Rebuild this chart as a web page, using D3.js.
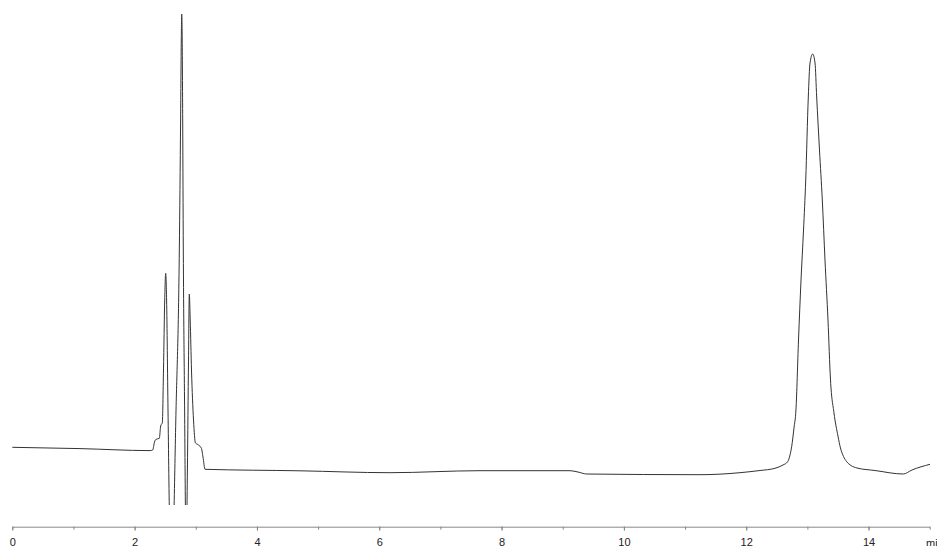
<!DOCTYPE html>
<html>
<head>
<meta charset="utf-8">
<script src="https://d3js.org/d3.v7.min.js"></script>
<style>
  body { margin: 0; background: #fff; }
  svg { display: block; }
</style>
</head>
<body>
<div id="chart"></div>
<script>
// retention time (min) and detector signal
var times = [0.00, 1.107, 2.251, 2.296, 2.325, 2.350, 2.404, 2.426, 2.453, 2.472,
  2.492, 2.508, 2.523, 2.546, 2.572, 2.614, 2.677, 2.731, 2.752, 2.763,
  2.770, 2.778, 2.786, 2.796, 2.816, 2.843, 2.863, 2.881, 2.894, 2.909,
  2.930, 2.963, 2.995, 3.045, 3.093, 3.118, 3.151, 4.704, 6.176, 7.647,
  9.119, 9.249, 9.392, 11.244, 11.898, 12.225, 12.470, 12.601, 12.678, 12.716,
  12.743, 12.781, 12.813, 12.855, 12.896, 12.937, 12.973, 13.015, 13.043, 13.087,
  13.125, 13.152, 13.198, 13.244, 13.288, 13.337, 13.378, 13.435, 13.500, 13.541,
  13.591, 13.643, 13.713, 13.812, 14.105, 14.568, 14.710, 15.005];
var signal = [17.7, 16.4, 14.4, 15, 23, 25.7, 26.7, 39, 42.3, 95,
  165, 191.7, 165, 55, -55, -95, 55, 215, 345, 425,
  451, 425, 345, 215, 65, -95, -5, 105, 171, 145,
  95, 45, 22, 20, 16.5, 8, -4.3, -5.8, -7.7, -5.7,
  -5.7, -7, -9, -9.7, -7.7, -5.5, -3.3, 0, 3.3, 10,
  18.3, 37, 55, 125, 185, 235, 285, 368, 402, 411,
  402, 368, 315, 265, 205, 145, 85, 52, 29, 17,
  8.5, 3.3, -0.5, -3, -5.5, -9, -5, 0.7];

var allTicks = d3.range(0, 16);
var labelTicks = [0, 2, 4, 6, 8, 10, 12, 14];
var unitLabel = "min";

var width = 937, height = 546;
var axisY = 526.7;

var svg = d3.select("#chart")
  .append("svg")
  .attr("width", width)
  .attr("height", height);

var x = d3.scaleLinear()
  .domain([0, 15])
  .range([12.3, 929.7]);

var y = d3.scaleLinear()
  .domain([-40, 460])
  .range([505, 5]);

// the trace runs off scale below the plot, so clip it
svg.append("clipPath")
  .attr("id", "plot-clip")
  .append("rect")
  .attr("x", 0)
  .attr("y", 0)
  .attr("width", width)
  .attr("height", 505);

var points = times.map(function(t, i) { return [t, signal[i]]; });

var line = d3.line()
  .x(function(d) { return x(d[0]); })
  .y(function(d) { return y(d[1]); })
  .curve(d3.curveMonotoneX);

svg.append("path")
  .datum(points)
  .attr("clip-path", "url(#plot-clip)")
  .attr("fill", "none")
  .attr("stroke", "#333")
  .attr("stroke-width", 1)
  .attr("d", line);

// minor ticks, every minute
var minor = svg.append("g")
  .attr("transform", "translate(0," + axisY + ")")
  .call(d3.axisBottom(x).tickValues(allTicks).tickSize(3).tickSizeOuter(0).tickFormat(""));

// major ticks with labels
var major = svg.append("g")
  .attr("transform", "translate(0," + axisY + ")")
  .call(d3.axisBottom(x).tickValues(labelTicks).tickSize(4).tickSizeOuter(0).tickPadding(8));

svg.selectAll(".domain, .tick line")
  .attr("stroke", "#888");
major.select(".domain").remove();

major.selectAll("text")
  .attr("fill", "#222")
  .style("font-family", "Liberation Sans, Arial, sans-serif")
  .style("font-size", "11px");

svg.append("text")
  .attr("x", 926)
  .attr("y", axisY + 4 + 8 + 7.8)
  .attr("fill", "#222")
  .style("font-family", "Liberation Sans, Arial, sans-serif")
  .style("font-size", "11px")
  .text(unitLabel);
</script>
</body>
</html>
